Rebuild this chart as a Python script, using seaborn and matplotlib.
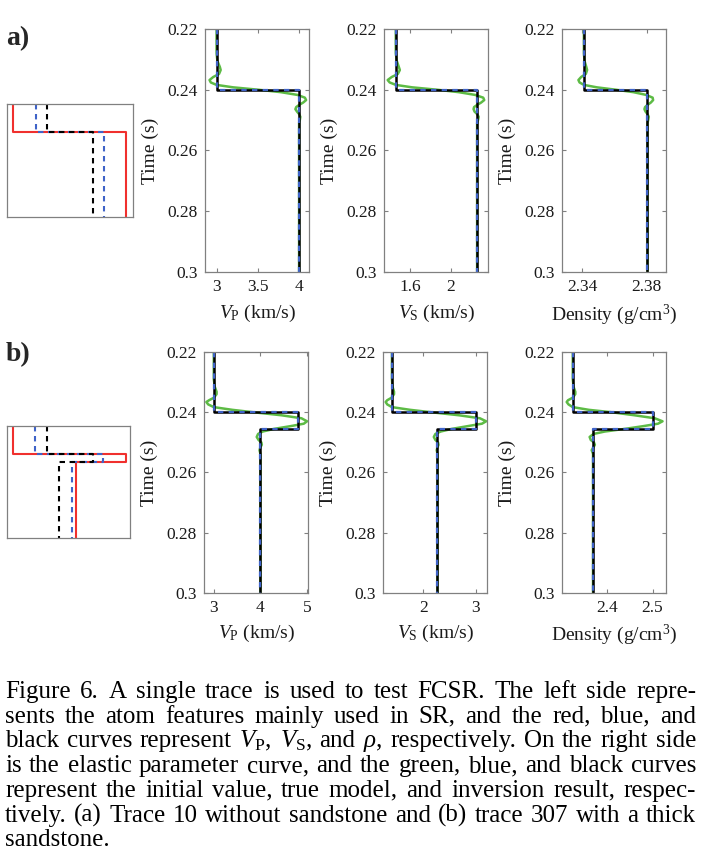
import matplotlib
matplotlib.use("Agg")
import matplotlib.pyplot as plt
import seaborn as sns

# ── Figure geometry (pixels) ───────────────────────────────────────────────
W, H = 701, 863
DPI = 100

GREEN = "#5dbb45"
BLUE = "#3f63c8"
RED = "#f0302e"
FRAME = "#808080"
TXT = "#1a1a1a"

T_TOP, T_BOT = 0.22, 0.30
TIME_TICKS = [0.22, 0.24, 0.26, 0.28, 0.30]
TIME_LABELS = ["0.22", "0.24", "0.26", "0.28", "0.3"]

# ── Data: a) trace 10, no sandstone ────────────────────────────────────────
a_interfaces = [0.24]
a_vp_true = [3.0, 4.0]
a_vs_true = [1.46, 2.26]
a_rho_true = [2.341, 2.3805]
a_vp_inv = [3.0, 4.0]
a_vs_inv = [1.46, 2.26]
a_rho_inv = [2.341, 2.3805]

a_init_t = [0.220, 0.228, 0.2305, 0.2325, 0.2335, 0.2348, 0.2358, 0.2368,
            0.2376, 0.2384, 0.2392, 0.2400, 0.2408, 0.2417, 0.2426, 0.2434,
            0.2442, 0.2450, 0.2457, 0.2464, 0.2472, 0.2480, 0.2489, 0.2498,
            0.2510, 0.300]
a_vp_init = [3.00, 3.00, 3.01, 3.04, 3.05, 3.03, 2.96, 2.915,
             2.93, 3.00, 3.20, 3.51, 3.78, 3.98, 4.07, 4.085,
             4.05, 4.00, 3.965, 3.955, 3.975, 4.00, 4.015, 4.01,
             4.00, 4.00]
a_vs_init = [1.46, 1.46, 1.47, 1.49, 1.50, 1.48, 1.42, 1.38,
             1.40, 1.46, 1.62, 1.87, 2.08, 2.24, 2.32, 2.33,
             2.30, 2.26, 2.23, 2.225, 2.235, 2.26, 2.275, 2.27,
             2.26, 2.26]
a_rho_init = [2.341, 2.341, 2.3414, 2.3425, 2.343, 2.3422, 2.3393, 2.3376,
              2.3383, 2.341, 2.349, 2.361, 2.3718, 2.3797, 2.3837, 2.3840,
              2.3826, 2.3805, 2.3790, 2.3786, 2.3793, 2.3805, 2.3813, 2.3810,
              2.3805, 2.3805]

# ── Data: b) trace 307, thick sandstone ───────────────────────────────────
b_interfaces = [0.24, 0.2456]
b_vp_true = [3.0, 4.8, 4.0]
b_vs_true = [1.40, 3.0, 2.27]
b_rho_true = [2.3244, 2.5, 2.369]
b_vp_inv = [3.0, 4.8, 4.0]
b_vs_inv = [1.40, 3.0, 2.27]
b_rho_inv = [2.3244, 2.5, 2.369]

b_init_t = [0.220, 0.229, 0.2315, 0.2332, 0.2340, 0.2352, 0.2360, 0.2366,
            0.2374, 0.2383, 0.2392, 0.2400, 0.2410, 0.2420, 0.2430, 0.2438,
            0.2446, 0.2455, 0.2464, 0.2472, 0.2482, 0.2492, 0.2500, 0.2508,
            0.2516, 0.2526, 0.2538, 0.300]
b_vp_init = [3.00, 3.00, 3.02, 3.06, 3.06, 3.00, 2.90, 2.84,
             2.88, 3.00, 3.40, 3.85, 4.45, 4.88, 5.00, 4.93,
             4.65, 4.30, 4.05, 3.95, 3.92, 3.96, 4.02, 4.03,
             4.00, 3.98, 4.00, 4.00]
b_vs_init = [1.40, 1.40, 1.41, 1.44, 1.44, 1.39, 1.31, 1.28,
             1.31, 1.40, 1.75, 2.15, 2.68, 3.08, 3.20, 3.12,
             2.85, 2.55, 2.33, 2.23, 2.20, 2.23, 2.28, 2.29,
             2.27, 2.255, 2.27, 2.27]
b_rho_init = [2.3244, 2.3244, 2.326, 2.330, 2.330, 2.324, 2.314, 2.311,
              2.315, 2.3244, 2.36, 2.41, 2.46, 2.505, 2.522, 2.512,
              2.48, 2.44, 2.395, 2.370, 2.3615, 2.364, 2.371, 2.373,
              2.370, 2.366, 2.369, 2.369]

# ── Data: atom-feature sketches (normalised) ──────────────────────────────
a_sketch_interfaces = [0.248]
a_sketch_red = [0.045, 0.944]
a_sketch_blue = [0.23, 0.77]
a_sketch_black = [0.32, 0.68]

b_sketch_interfaces = [0.249, 0.318]
b_sketch_red = [0.045, 0.968, 0.562]
b_sketch_blue = [0.227, 0.784, 0.527]
b_sketch_black = [0.324, 0.703, 0.419]

# ── Axis settings ──────────────────────────────────────────────────────────
a_xlims = [(2.86, 4.12), (1.344, 2.367), (2.3274, 2.392)]
a_xticks = [[3, 3.5, 4], [1.6, 2], [2.34, 2.38]]
a_xticklabels = [["3", "3.5", "4"], ["1.6", "2"], ["2.34", "2.38"]]
b_xlims = [(2.79, 5.02), (1.229, 3.216), (2.3007, 2.5296)]
b_xticks = [[3, 4, 5], [2, 3], [2.4, 2.5]]
b_xticklabels = [["3", "4", "5"], ["2", "3"], ["2.4", "2.5"]]
XLABELS = [r"$V_\mathrm{P}$ (km/s)", r"$V_\mathrm{S}$ (km/s)",
           r"Density (g/cm$^3$)"]

CAPTION = [
    "Figure 6.  A single trace is used to test FCSR. The left side repre-",
    "sents the atom features mainly used in SR, and the red, blue, and",
    r"black curves represent $V_\mathrm{P}$, $V_\mathrm{S}$, and $\rho$, respectively. On the right side",
    "is the elastic parameter curve, and the green, blue, and black curves",
    "represent the initial value, true model, and inversion result, respec-",
    "tively. (a) Trace 10 without sandstone and (b) trace 307 with a thick",
    "sandstone.",
]

sns.set_theme(style="ticks")
plt.rcParams["font.family"] = ["Liberation Serif", "DejaVu Serif"]
plt.rcParams["mathtext.fontset"] = "custom"
plt.rcParams["mathtext.rm"] = "Liberation Serif"
plt.rcParams["mathtext.it"] = "Liberation Serif:italic"
plt.rcParams["mathtext.bf"] = "Liberation Serif:bold"


def px_axes(fig, left, top, width, height):
    return fig.add_axes([left / W, 1 - (top + height) / H, width / W, height / H])


def step_path(values, interfaces, top, bottom):
    """Turn layer values + interface depths into a blocky profile."""
    depth, vals = [top], [values[0]]
    for i, z in enumerate(interfaces):
        depth += [z, z]
        vals += [values[i], values[i + 1]]
    depth.append(bottom)
    vals.append(values[-1])
    return vals, depth


def style_frame(ax):
    for s in ax.spines.values():
        s.set_color(FRAME)
        s.set_linewidth(0.9)


def draw_sketch(fig, box, interfaces, red, blue, black):
    ax = px_axes(fig, *box)
    for vals, color, dash in [(red, RED, None), (blue, BLUE, (2.6, 2.2)),
                              (black, "black", (2.6, 2.2))]:
        x, z = step_path(vals, interfaces, 0.0, 1.0)
        sns.lineplot(x=x, y=z, orient="y", sort=False, estimator=None,
                     color=color, lw=1.5, ax=ax, legend=False)
        if dash is not None:
            ax.lines[-1].set_dashes(dash)
    ax.set_xlim(0, 1)
    ax.set_ylim(1, 0)
    ax.set_xticks([])
    ax.set_yticks([])
    ax.set_xlabel("")
    ax.set_ylabel("")
    style_frame(ax)


def draw_profile(ax, init_t, init_v, true_v, inv_v, interfaces,
                 xlim, xticks, xticklabels, xlabel):
    sns.lineplot(x=init_v, y=init_t, orient="y", sort=False, estimator=None,
                 color=GREEN, lw=1.8, ax=ax, legend=False)
    x, z = step_path(inv_v, interfaces, T_TOP, T_BOT)
    sns.lineplot(x=x, y=z, orient="y", sort=False, estimator=None,
                 color="black", lw=1.8, ax=ax, legend=False)
    x, z = step_path(true_v, interfaces, T_TOP, T_BOT)
    sns.lineplot(x=x, y=z, orient="y", sort=False, estimator=None,
                 color=BLUE, lw=1.6, ax=ax, legend=False)
    ax.lines[-1].set_dashes((2.4, 2.4))

    ax.set_xlim(*xlim)
    ax.set_ylim(T_BOT, T_TOP)
    ax.set_xticks(xticks)
    ax.set_xticklabels(xticklabels)
    ax.set_yticks(TIME_TICKS)
    ax.set_yticklabels(TIME_LABELS)
    ax.tick_params(direction="in", top=True, right=True, length=3,
                   width=0.8, color=FRAME, labelsize=12.5, labelcolor=TXT, pad=5)
    ax.set_xlabel(xlabel, fontsize=14, color=TXT)
    ax.set_ylabel("Time (s)", fontsize=14, color=TXT)
    ax.xaxis.set_label_coords(0.5, -0.125)
    ax.yaxis.set_label_coords(-0.44, 0.5)
    style_frame(ax)


def draw_caption(fig, lines, left, right, base0, step, size):
    """Fully justified caption, word by word."""
    renderer = fig.canvas.get_renderer()
    space = size * DPI / 72 * 0.25
    for i, line in enumerate(lines):
        words = line.split()
        y = 1 - (base0 + i * step) / H
        texts = [fig.text(0, y, w, fontsize=size, va="baseline", color="black")
                 for w in words]
        widths = [t.get_window_extent(renderer).width for t in texts]
        if i == len(lines) - 1 or len(words) < 2:
            gap = space
        else:
            gap = (right - left - sum(widths)) / (len(words) - 1)
            gap = max(gap, 0.5 * space)
        x = left
        for t, w in zip(texts, widths):
            t.set_x(x / W)
            x += w + gap


fig = plt.figure(figsize=(W / DPI, H / DPI), dpi=DPI)

# row a
draw_sketch(fig, (7, 104, 126, 113), a_sketch_interfaces,
            a_sketch_red, a_sketch_blue, a_sketch_black)
a_lefts = [205, 384, 562]
a_init = [a_vp_init, a_vs_init, a_rho_init]
a_true = [a_vp_true, a_vs_true, a_rho_true]
a_inv = [a_vp_inv, a_vs_inv, a_rho_inv]
for k in range(3):
    ax = px_axes(fig, a_lefts[k], 29, 104, 243)
    draw_profile(ax, a_init_t, a_init[k], a_true[k], a_inv[k], a_interfaces,
                 a_xlims[k], a_xticks[k], a_xticklabels[k], XLABELS[k])

# row b
draw_sketch(fig, (7, 426, 123, 112), b_sketch_interfaces,
            b_sketch_red, b_sketch_blue, b_sketch_black)
b_lefts = [204, 383, 562]
b_init = [b_vp_init, b_vs_init, b_rho_init]
b_true = [b_vp_true, b_vs_true, b_rho_true]
b_inv = [b_vp_inv, b_vs_inv, b_rho_inv]
for k in range(3):
    ax = px_axes(fig, b_lefts[k], 352, 104, 241)
    draw_profile(ax, b_init_t, b_init[k], b_true[k], b_inv[k], b_interfaces,
                 b_xlims[k], b_xticks[k], b_xticklabels[k], XLABELS[k])

fig.text(6 / W, 1 - 45 / H, "a)", fontsize=20, fontweight="bold", va="baseline")
fig.text(6 / W, 1 - 361 / H, "b)", fontsize=20, fontweight="bold", va="baseline")

draw_caption(fig, CAPTION, 5, 696, 698, 24.7, 18)

fig.savefig("out.png", dpi=DPI)
